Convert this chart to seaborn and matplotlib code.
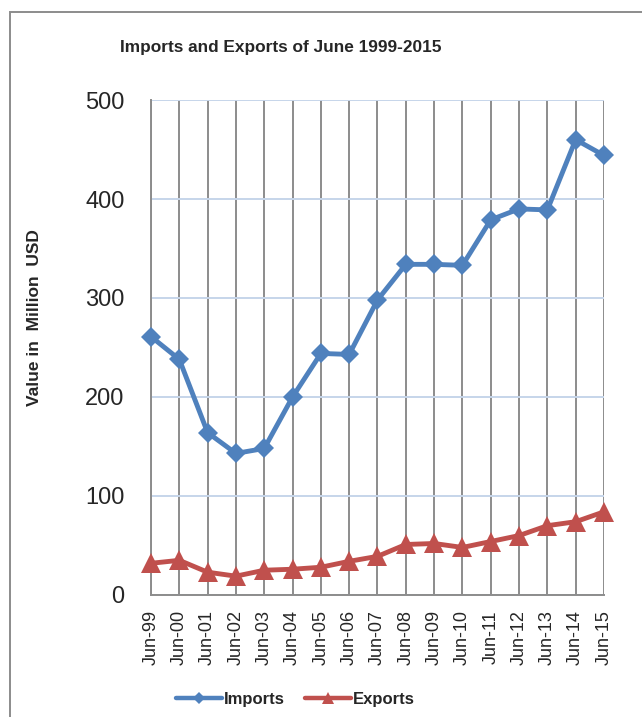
import seaborn as sns
import matplotlib.pyplot as plt
import pandas as pd
import numpy as np
from matplotlib.lines import Line2D
from matplotlib.patches import Rectangle

# values (million USD)
months = ["Jun-99", "Jun-00", "Jun-01", "Jun-02", "Jun-03", "Jun-04", "Jun-05",
          "Jun-06", "Jun-07", "Jun-08", "Jun-09", "Jun-10", "Jun-11", "Jun-12",
          "Jun-13", "Jun-14", "Jun-15"]
imports = [261, 238, 164, 143, 148, 200, 244, 243, 298, 334, 334, 333, 379,
           390, 389, 460, 444]
exports = [32, 35, 23, 19, 25, 26, 28, 34, 39, 51, 52, 48, 54, 60, 70, 74, 84]

df = pd.DataFrame({
    "pos": list(range(len(months))) * 2,
    "value": imports + exports,
    "series": ["Imports"] * len(months) + ["Exports"] * len(months),
})

sns.set_style("white")
plt.rcParams["font.family"] = ["Liberation Sans", "DejaVu Sans"]

colors = {"Imports": "#4F81BD", "Exports": "#C0504D"}

fig = plt.figure(figsize=(6.42, 7.17), dpi=100)
ax = fig.add_axes([0.2352, 0.1702, 0.7056, 0.6903])

sns.lineplot(data=df, x="pos", y="value", hue="series", style="series",
             palette=colors, markers={"Imports": "D", "Exports": "^"},
             dashes=False, linewidth=3.5, markeredgewidth=0, legend=False,
             ax=ax, zorder=3)
# size the markers per series, let them spill over the plot edge
for line in ax.get_lines():
    line.set_clip_on(False)
    if line.get_marker() == "D":
        line.set_markersize(10)
    elif line.get_marker() == "^":
        line.set_markersize(14)

ax.set_xlim(0, len(months) - 1)
ax.set_ylim(0, 500)
ax.set_yticks([0, 100, 200, 300, 400, 500])
ax.set_xticks(range(len(months)))
ax.set_xticklabels(months, rotation=90, fontsize=13)
ax.tick_params(axis="y", labelsize=17, length=0, pad=19)
ax.tick_params(axis="x", length=0, pad=11)
ax.set_xlabel("")
ax.set_ylabel("")

ax.yaxis.grid(True, color="#C6D5EA", linewidth=1.4)
ax.xaxis.grid(True, color="#8C8C8C", linewidth=1.4)
ax.set_axisbelow(True)
for side in ["top", "right"]:
    ax.spines[side].set_visible(False)
ax.spines["left"].set_color("#8C8C8C")
ax.spines["bottom"].set_color("#8C8C8C")
ax.spines["left"].set_linewidth(1.4)
ax.spines["bottom"].set_linewidth(1.4)

fig.text(0.4377, 0.9344, "Imports and Exports of June 1999-2015",
         ha="center", va="center", fontsize=12.4, fontweight="bold")
fig.text(0.0545, 0.5565, "Value in  Million  USD", rotation=90,
         ha="center", va="center", fontsize=12.5, fontweight="bold")

handles = [
    Line2D([], [], color=colors["Imports"], linewidth=3.2, marker="D",
           markersize=6, markeredgewidth=0),
    Line2D([], [], color=colors["Exports"], linewidth=3.2, marker="^",
           markersize=8, markeredgewidth=0),
]
fig.legend(handles, ["Imports", "Exports"], loc="center",
           bbox_to_anchor=(0.46, 0.024), ncol=2, frameon=False,
           handlelength=2.8, handletextpad=0.1, columnspacing=1.2,
           numpoints=1, prop={"weight": "bold", "size": 12})

# outer chart frame (clipped at right and bottom)
fig.patches.append(Rectangle((10 / 642, -0.1), 1.2, 1.1 - 12 / 717,
                             transform=fig.transFigure, fill=False,
                             edgecolor="#8C8C8C", linewidth=1.4))

fig.savefig("out.png", dpi=100)
